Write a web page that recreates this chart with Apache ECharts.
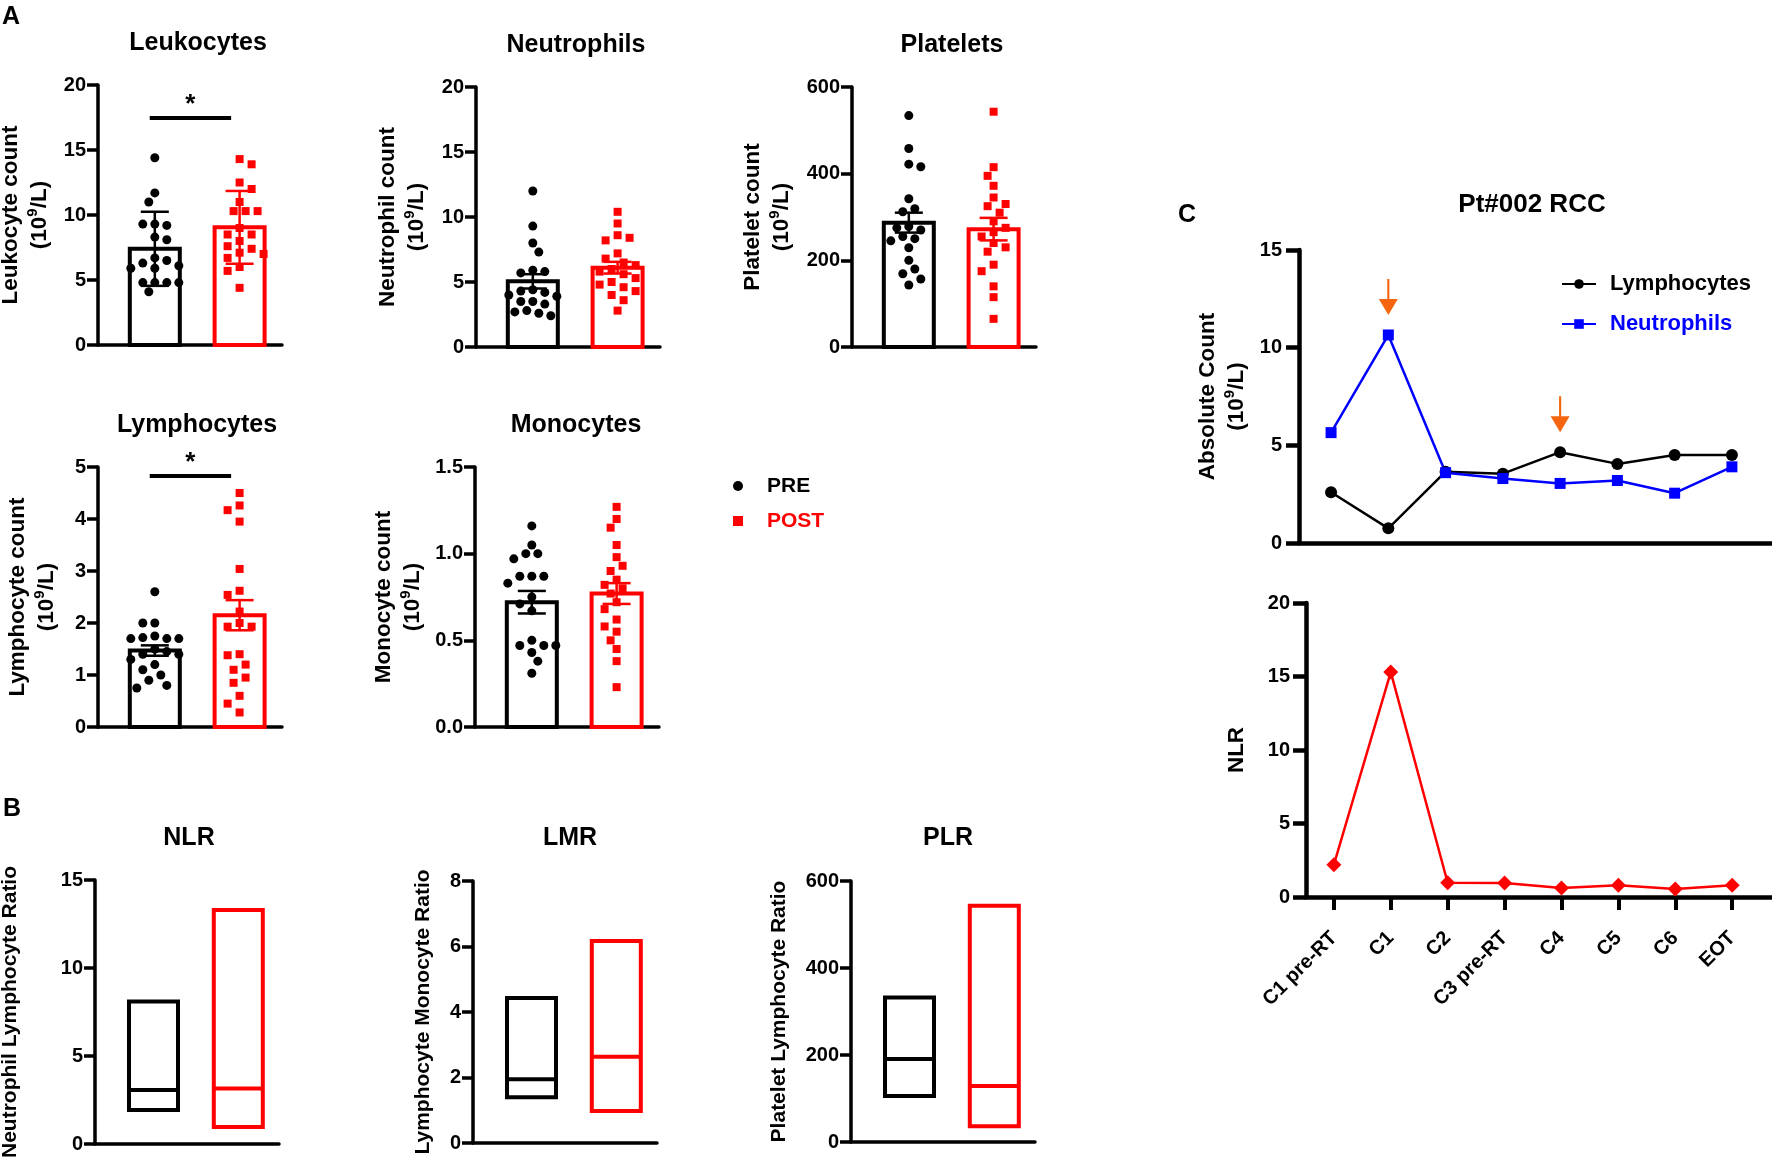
<!DOCTYPE html>
<html><head><meta charset="utf-8">
<script src="https://cdn.jsdelivr.net/npm/echarts@6/dist/echarts.min.js"></script>
<style>html,body{margin:0;padding:0;background:#fff}#c{width:1772px;height:1160px}</style>
</head><body><div id="c"></div>
<script>
// ---------------- DATA ----------------
const groups = ['PRE', 'POST'];

const leukPre  = [14.4, 11.7, 11.0, 9.3, 9.3, 9.2, 8.3, 8.1, 6.7, 6.5, 6.3, 6.1, 5.9, 5.9, 4.8, 4.8, 4.8, 4.8, 4.1];
const leukPost = [14.3, 13.9, 12.5, 12.0, 11.0, 10.3, 10.3, 10.3, 9.0, 8.5, 8.5, 8.0, 7.6, 7.4, 7.1, 7.0, 6.7, 6.0, 5.7, 4.4];
const leukMean = [7.4, 9.05];
const leukErr  = [2.85, 2.8];
const leukSig  = 17.5;

const neutPre  = [12.0, 9.3, 8.0, 7.3, 5.9, 5.8, 5.7, 4.4, 4.3, 4.2, 4.0, 3.9, 3.5, 3.5, 3.3, 2.8, 2.7, 2.6, 2.4];
const neutPost = [10.4, 9.5, 8.6, 8.4, 8.2, 7.2, 6.8, 6.5, 6.3, 6.0, 5.8, 5.6, 5.3, 5.0, 4.8, 4.6, 4.3, 4.0, 3.6, 2.8];
const neutMean = [5.05, 6.1];
const neutErr  = [0.55, 0.45];

const platPre  = [534, 458, 422, 416, 342, 319, 312, 278, 275, 270, 255, 250, 245, 229, 200, 180, 169, 157, 143];
const platPost = [543, 415, 395, 372, 345, 330, 325, 310, 290, 275, 265, 255, 240, 230, 220, 190, 175, 140, 115, 65];
const platMean = [287, 272];
const platErr  = [23, 26];

const lymphPre  = [2.6, 2.0, 2.0, 1.75, 1.72, 1.7, 1.7, 1.7, 1.5, 1.45, 1.4, 1.4, 1.3, 1.2, 1.1, 1.0, 0.9, 0.8, 0.75];
const lymphPost = [4.5, 4.26, 4.17, 3.95, 3.04, 2.62, 2.54, 2.22, 2.0, 1.93, 1.93, 1.4, 1.38, 1.2, 1.1, 0.95, 0.85, 0.6, 0.45, 0.28];
const lymphMean = [1.47, 2.15];
const lymphErr  = [0.1, 0.29];
const lymphSig  = 4.83;

const monoPre  = [1.16, 1.05, 1.0, 1.0, 0.97, 0.87, 0.87, 0.87, 0.83, 0.75, 0.71, 0.67, 0.5, 0.47, 0.47, 0.47, 0.43, 0.38, 0.31];
const monoPost = [1.27, 1.2, 1.15, 1.05, 0.98, 0.93, 0.9, 0.85, 0.82, 0.8, 0.77, 0.72, 0.68, 0.62, 0.58, 0.55, 0.5, 0.45, 0.38, 0.23];
const monoMean = [0.72, 0.77];
const monoErr  = [0.065, 0.06];

// floating bars (min, median, max) for PRE / POST
const nlrMin = [1.93, 0.97], nlrMed = [3.07, 3.15], nlrMax = [8.1, 13.3];
const lmrMin = [1.4, 0.98],  lmrMed = [1.95, 2.63], lmrMax = [4.43, 6.17];
const plrMin = [106, 36],    plrMed = [191, 129],   plrMax = [332, 543];

// panel C
const timepoints   = ['C1 pre-RT', 'C1', 'C2', 'C3 pre-RT', 'C4', 'C5', 'C6', 'EOT'];
const lymphCourse  = [2.6, 0.75, 3.65, 3.55, 4.65, 4.05, 4.5, 4.5];
const neutCourse   = [5.65, 10.65, 3.6, 3.3, 3.05, 3.2, 2.55, 3.9];
const nlrCourse    = [2.2, 15.3, 0.97, 0.95, 0.62, 0.8, 0.55, 0.8];
const rtArrows     = ['C1', 'C4'];

// ---------------- STYLE / LAYOUT ----------------
const FONT = '"Liberation Sans", Arial, Helvetica, sans-serif';
const COLORS = ['#000000', '#ff0000'];
const BLUE = '#0000ff';
const ORANGE = '#f5650f';
const NAME_FS = 22.5;
const NAME_FS_B = 21;

const panelsA = [
  {title:'Leukocytes',  yname:'Leukocyte count',  pre:leukPre,  post:leukPost,  mean:leukMean,  err:leukErr,  max:20,  interval:5,   sig:leukSig,
   left:98,  top:85,  h:260, gap:44, tx:198, ty:43},
  {title:'Neutrophils', yname:'Neutrophil count', pre:neutPre,  post:neutPost,  mean:neutMean,  err:neutErr,  max:20,  interval:5,
   left:476, top:87,  h:260, gap:45, tx:576, ty:45},
  {title:'Platelets',   yname:'Platelet count',   pre:platPre,  post:platPost,  mean:platMean,  err:platErr,  max:600, interval:200,
   left:852, top:87,  h:260, gap:56, tx:952, ty:45},
  {title:'Lymphocytes', yname:'Lymphocyte count', pre:lymphPre, post:lymphPost, mean:lymphMean, err:lymphErr, max:5,   interval:1,   sig:lymphSig,
   left:98,  top:467, h:260, gap:37, tx:197, ty:425},
  {title:'Monocytes',   yname:'Monocyte count',   pre:monoPre,  post:monoPost,  mean:monoMean,  err:monoErr,  max:1.5, interval:0.5, dec:1,
   left:475, top:467, h:260, gap:48, tx:576, ty:425}
];
const panelsB = [
  {title:'NLR', yname:'Neutrophil Lymphocyte Ratio', mn:nlrMin, md:nlrMed, mx:nlrMax, max:15,  interval:5,
   left:95,  top:880, h:264, gap:70, tx:189, ty:838},
  {title:'LMR', yname:'Lymphocyte Monocyte Ratio',   mn:lmrMin, md:lmrMed, mx:lmrMax, max:8,   interval:2,
   left:473, top:881, h:262, gap:35, tx:570, ty:838},
  {title:'PLR', yname:'Platelet Lymphocyte Ratio',   mn:plrMin, md:plrMed, mx:plrMax, max:600, interval:200,
   left:851, top:881, h:261, gap:57, tx:948, ty:838}
];
const SMALL_W = 184, X_MIN = -0.67, X_MAX = 1.5;

const grids = [], xAxes = [], yAxes = [], series = [], graphics = [];

function makeRich(fs) {
  return {
    t: {fontSize: fs, fontWeight: 'bold', fontFamily: FONT, color: '#000', lineHeight: 29},
    s: {fontSize: 15, fontWeight: 'bold', fontFamily: FONT, color: '#000', lineHeight: 29, verticalAlign: 'top'}
  };
}
function unitName(first) { return '{t|' + first + '}\n{t|(10}{s|9}{t|/L)}'; }

function addTitle(text, x, y, size) {
  graphics.push({type: 'text', x: x, y: y, silent: true,
    style: {text: text, fill: '#000', font: 'bold ' + (size || 25) + 'px ' + FONT, align: 'center', verticalAlign: 'middle'}});
}

function yAxisCfg(gi, max, interval, name, gap, dec, opt) {
  opt = opt || {};
  const fs = opt.nameFs || NAME_FS;
  return {
    gridIndex: gi, type: 'value', min: 0, max: max, interval: interval,
    axisLine: {show: true, onZero: false, lineStyle: {color: '#000', width: opt.lw || 3.5}},
    axisTick: {show: true, length: opt.tick || 11, lineStyle: {color: '#000', width: opt.lw || 3.5}},
    axisLabel: {show: true, color: '#000', fontSize: 20, fontWeight: 'bold', fontFamily: FONT, margin: opt.margin || 12,
      formatter: v => dec ? v.toFixed(dec) : String(v)},
    splitLine: {show: false},
    name: name, nameLocation: 'middle', nameGap: gap, nameRotate: 90,
    nameTextStyle: {color: '#000', fontSize: fs, fontWeight: 'bold', fontFamily: FONT, lineHeight: 29, rich: makeRich(fs)}
  };
}
function xAxisPlain(gi, min, max, lw) {
  return {gridIndex: gi, type: 'value', min: min, max: max,
    axisLine: {show: true, onZero: false, lineStyle: {color: '#000', width: lw || 3.5}},
    axisTick: {show: false}, axisLabel: {show: false}, splitLine: {show: false}};
}

// beeswarm-style horizontal spread (pixels) so that dots do not overlap, kept inside the bar
function swarmOffsets(vals, pxPerUnit) {
  const order = vals.map((v, i) => i).sort((a, b) => vals[b] - vals[a]);
  const placed = [], off = [];
  const step = 6, minD = 10.5, maxK = 4;
  order.forEach((i, n) => {
    const y = vals[i] * pxPerUnit;
    const cands = [0];
    for (let k = 1; k <= maxK; k++) cands.push(...(n % 2 ? [k * step, -k * step] : [-k * step, k * step]));
    let chosen = null, best = -1, bestDx = 0;
    for (const dx of cands) {
      const d = placed.length ? Math.min(...placed.map(p => Math.hypot(p[0] - dx, p[1] - y))) : 1e9;
      if (d >= minD) { chosen = dx; break; }
      if (d > best) { best = d; bestDx = dx; }
    }
    if (chosen === null) chosen = bestDx;
    placed.push([chosen, y]);
    off[i] = chosen;
  });
  return off;
}

function renderBar(params, api) {
  const g = api.value(0), m = api.value(1);
  const base = api.coord([g, 0]), top = api.coord([g, m]);
  const w = 50;
  return {type: 'rect', shape: {x: base[0] - w / 2, y: top[1], width: w, height: base[1] - top[1]},
    style: {fill: 'none', stroke: COLORS[g], lineWidth: 4}};
}
function renderErr(params, api) {
  const g = api.value(0), m = api.value(1), e = api.value(2);
  const hi = api.coord([g, m + e]), lo = api.coord([g, m - e]);
  const cw = 14, st = {stroke: COLORS[g], lineWidth: 2.5};
  return {type: 'group', children: [
    {type: 'line', shape: {x1: hi[0], y1: hi[1], x2: lo[0], y2: lo[1]}, style: st},
    {type: 'line', shape: {x1: hi[0] - cw, y1: hi[1], x2: hi[0] + cw, y2: hi[1]}, style: st},
    {type: 'line', shape: {x1: lo[0] - cw, y1: lo[1], x2: lo[0] + cw, y2: lo[1]}, style: st}
  ]};
}
function renderBox(params, api) {
  const g = api.value(0), mn = api.value(1), md = api.value(2), mx = api.value(3);
  const a = api.coord([g, mn]), b = api.coord([g, mx]), c = api.coord([g, md]);
  const w = 49;
  return {type: 'group', children: [
    {type: 'rect', shape: {x: a[0] - w / 2, y: b[1], width: w, height: a[1] - b[1]},
      style: {fill: 'none', stroke: COLORS[g], lineWidth: 4}},
    {type: 'line', shape: {x1: a[0] - w / 2, y1: c[1], x2: a[0] + w / 2, y2: c[1]},
      style: {stroke: COLORS[g], lineWidth: 4}}
  ]};
}

// ---------------- PANEL A ----------------
panelsA.forEach((p, gi) => {
  grids.push({left: p.left, top: p.top, width: SMALL_W, height: p.h, outerBoundsMode: 'none'});
  xAxes.push(xAxisPlain(gi, X_MIN, X_MAX));
  yAxes.push(yAxisCfg(gi, p.max, p.interval, unitName(p.yname), p.gap, p.dec));
  addTitle(p.title, p.tx, p.ty);
  const ppu = p.h / p.max;
  series.push({type: 'custom', name: p.title + ' mean', xAxisIndex: gi, yAxisIndex: gi, z: 2, silent: true,
    renderItem: renderBar, data: groups.map((g, i) => [i, p.mean[i], p.err[i]])});
  [p.pre, p.post].forEach((vals, g) => {
    const off = swarmOffsets(vals, ppu);
    const s = {type: 'scatter', name: groups[g], xAxisIndex: gi, yAxisIndex: gi, z: 3, silent: true,
      symbol: g === 0 ? 'circle' : 'rect', symbolSize: g === 0 ? 9 : 8,
      itemStyle: {color: COLORS[g], opacity: 1},
      data: vals.map((v, i) => ({value: [g, v], symbolOffset: [off[i], 0]}))};
    if (g === 0 && p.sig !== undefined) {
      s.markLine = {silent: true, symbol: ['none', 'none'], animation: false,
        lineStyle: {color: '#000', width: 4, type: 'solid'},
        label: {show: true, position: 'middle', formatter: '*', color: '#000', fontSize: 26, fontWeight: 'bold', fontFamily: FONT, distance: 0},
        data: [[{coord: [-0.06, p.sig]}, {coord: [0.9, p.sig]}]]};
    }
    series.push(s);
  });
  series.push({type: 'custom', name: p.title + ' error', xAxisIndex: gi, yAxisIndex: gi, z: 4, silent: true,
    renderItem: renderErr, data: groups.map((g, i) => [i, p.mean[i], p.err[i]])});
});

// ---------------- PANEL B ----------------
panelsB.forEach((p, k) => {
  const gi = panelsA.length + k;
  grids.push({left: p.left, top: p.top, width: SMALL_W, height: p.h, outerBoundsMode: 'none'});
  xAxes.push(xAxisPlain(gi, -0.69, 1.48));
  yAxes.push(yAxisCfg(gi, p.max, p.interval, '{t|' + p.yname + '}', p.gap, 0, {nameFs: NAME_FS_B}));
  addTitle(p.title, p.tx, p.ty);
  series.push({type: 'custom', name: p.title, xAxisIndex: gi, yAxisIndex: gi, z: 2, silent: true,
    renderItem: renderBox, data: groups.map((g, i) => [i, p.mn[i], p.md[i], p.mx[i]])});
});

// ---------------- PANEL C ----------------
const gTop = panelsA.length + panelsB.length, gBot = gTop + 1;
grids.push({left: 1299, top: 250, width: 473, height: 293, outerBoundsMode: 'none'});
grids.push({left: 1306, top: 603, width: 466, height: 294, outerBoundsMode: 'none'});
xAxes.push(xAxisPlain(gTop, -0.56, 7.7, 4.5));
const tpIdx = timepoints.map((t, i) => i);
xAxes.push({gridIndex: gBot, type: 'value', min: -0.49, max: 7.7,
  axisLine: {show: true, onZero: false, lineStyle: {color: '#000', width: 4.5}},
  axisTick: {show: true, customValues: tpIdx, length: 13, lineStyle: {color: '#000', width: 4}},
  axisLabel: {show: true, customValues: tpIdx, rotate: 45, margin: 38, color: '#000', fontSize: 20, fontWeight: 'bold', fontFamily: FONT,
    formatter: v => timepoints[Math.round(v)]},
  splitLine: {show: false}});
yAxes.push(yAxisCfg(gTop, 15, 5, '{t|Absolute Count}\n{t|(10}{s|9}{t|/L)}', 48, 0, {lw: 4.5, tick: 13, margin: 17}));
yAxes.push(yAxisCfg(gBot, 20, 5, '{t|NLR}', 55, 0, {lw: 4.5, tick: 13, margin: 16}));
addTitle('Pt#002 RCC', 1532, 205, 26);

const arrowPath = 'path://M8,0 L10,0 L10,20 L18,20 L9,36 L0,20 L8,20 Z';
function arrowsFor(valuesA, valuesB) {
  return rtArrows.map(t => {
    const i = timepoints.indexOf(t);
    return {coord: [i, Math.max(valuesA[i], valuesB[i])], symbol: arrowPath, symbolSize: [19, 36],
      symbolOffset: [0, -38], itemStyle: {color: ORANGE}, label: {show: false}};
  });
}
series.push({type: 'line', name: 'Lymphocytes', xAxisIndex: gTop, yAxisIndex: gTop, z: 3,
  data: lymphCourse.map((v, i) => [i, v]), symbol: 'circle', symbolSize: 12,
  lineStyle: {color: '#000', width: 2.5}, itemStyle: {color: '#000'},
  markPoint: {silent: true, animation: false, data: arrowsFor(lymphCourse, neutCourse)}});
series.push({type: 'line', name: 'Neutrophils', xAxisIndex: gTop, yAxisIndex: gTop, z: 3,
  data: neutCourse.map((v, i) => [i, v]), symbol: 'rect', symbolSize: 11,
  lineStyle: {color: BLUE, width: 2.5}, itemStyle: {color: BLUE}});
series.push({type: 'line', name: 'NLR', xAxisIndex: gBot, yAxisIndex: gBot, z: 3,
  data: nlrCourse.map((v, i) => [i, v]), symbol: 'diamond', symbolSize: 15,
  lineStyle: {color: '#ff0000', width: 2.5}, itemStyle: {color: '#ff0000'}});

// panel letters
addTitle('A', 11, 17, 25);
addTitle('B', 12, 809, 25);
addTitle('C', 1187, 215, 25);

const legendText = {fontSize: 21, fontWeight: 'bold', fontFamily: FONT, lineHeight: 22};
const option = {
  animation: false,
  backgroundColor: '#ffffff',
  textStyle: {fontFamily: FONT},
  graphic: graphics,
  legend: [
    {orient: 'vertical', left: 728, top: 470, itemWidth: 10, itemHeight: 10, itemGap: 13, selectedMode: false,
      textStyle: Object.assign({padding: [0, 0, 0, 19]}, legendText),
      data: [{name: 'PRE', icon: 'circle', textStyle: {color: '#000'}},
             {name: 'POST', icon: 'rect', textStyle: {color: '#ff0000'}}]},
    {orient: 'vertical', left: 1556, top: 267, itemWidth: 34, itemHeight: 12, itemGap: 16, selectedMode: false,
      textStyle: Object.assign({padding: [0, 0, 0, 9]}, legendText, {fontSize: 22, lineHeight: 24}),
      data: [{name: 'Lymphocytes', textStyle: {color: '#000'}},
             {name: 'Neutrophils', textStyle: {color: BLUE}}]}
  ],
  grid: grids,
  xAxis: xAxes,
  yAxis: yAxes,
  series: series
};
const chart = echarts.init(document.getElementById('c'), null, {renderer: 'canvas'});
chart.setOption(option);
</script>
</body></html>
